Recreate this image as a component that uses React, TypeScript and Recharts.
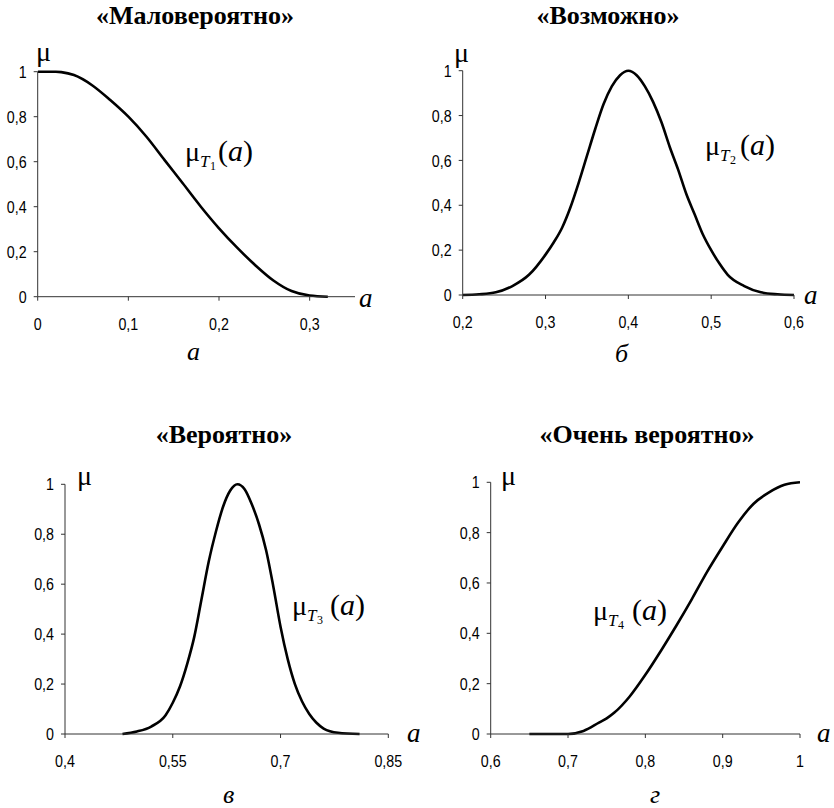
import React from 'react';
import { LineChart, Line, XAxis, YAxis } from 'recharts';

// Panel 1 «Маловероятно»
const a1 = [0, 0.02, 0.026, 0.04, 0.06, 0.08, 0.1, 0.12, 0.14, 0.16, 0.18, 0.2, 0.22, 0.24, 0.26, 0.28, 0.3, 0.32];
const mu1 = [1, 1, 0.998, 0.985, 0.94, 0.874, 0.8, 0.711, 0.607, 0.504, 0.4, 0.304, 0.218, 0.14, 0.072, 0.025, 0.005, 0];

// Panel 2 «Возможно»
const a2 = [0.2, 0.22, 0.24, 0.26, 0.28, 0.3, 0.31, 0.32, 0.33, 0.34, 0.35, 0.36, 0.37, 0.38, 0.39, 0.4, 0.41, 0.42, 0.43, 0.44, 0.45, 0.46, 0.47, 0.48, 0.49, 0.5, 0.51, 0.52, 0.54, 0.56, 0.58, 0.6];
const mu2 = [0, 0.003, 0.012, 0.04, 0.09, 0.18, 0.235, 0.3, 0.39, 0.5, 0.62, 0.74, 0.85, 0.93, 0.98, 1, 0.98, 0.93, 0.86, 0.77, 0.66, 0.56, 0.45, 0.36, 0.27, 0.2, 0.14, 0.09, 0.04, 0.012, 0.003, 0];

// Panel 3 «Вероятно»
const a3 = [0.48, 0.5, 0.52, 0.54, 0.55, 0.56, 0.57, 0.58, 0.59, 0.6, 0.61, 0.62, 0.63, 0.64, 0.65, 0.66, 0.67, 0.68, 0.69, 0.7, 0.71, 0.72, 0.73, 0.74, 0.75, 0.76, 0.78, 0.81];
const mu3 = [0, 0.01, 0.03, 0.075, 0.125, 0.19, 0.28, 0.39, 0.54, 0.69, 0.81, 0.91, 0.975, 1, 0.98, 0.92, 0.84, 0.735, 0.59, 0.43, 0.3, 0.2, 0.13, 0.08, 0.045, 0.022, 0.005, 0];

// Panel 4 «Очень вероятно»
const a4 = [0.65, 0.7, 0.72, 0.74, 0.75, 0.76, 0.78, 0.8, 0.82, 0.84, 0.86, 0.88, 0.9, 0.92, 0.94, 0.96, 0.98, 1];
const mu4 = [0, 0, 0.012, 0.045, 0.062, 0.085, 0.15, 0.235, 0.33, 0.43, 0.535, 0.645, 0.745, 0.84, 0.915, 0.96, 0.99, 1];

const yTicks = [0, 0.2, 0.4, 0.6, 0.8, 1];
const xTicks1 = [0, 0.1, 0.2, 0.3];
const xTicks2 = [0.2, 0.3, 0.4, 0.5, 0.6];
const xTicks3 = [0.4, 0.55, 0.7, 0.85];
const xTicks4 = [0.6, 0.7, 0.8, 0.9, 1];

const titles = ['«Маловероятно»', '«Возможно»', '«Вероятно»', '«Очень вероятно»'];
const subLabels = ['а', 'б', 'в', 'г'];

const fmt = (v: number) => String(v).replace('.', ',');
const TICK_FONT = "'Liberation Sans', Arial, sans-serif";
const SERIF = "'Liberation Serif', 'Times New Roman', serif";
const AXIS = '#333';
const Y_W = 40;
const X_H = 40;
const TICK_SIZE = 17;
const NARROW = 0.84;

function YTick(props: any) {
  const { x, y, payload } = props;
  return (
    <text transform={`translate(${x},${y}) scale(${NARROW},1)`} x={0} y={0} dy="0.36em" textAnchor="end" fontSize={TICK_SIZE} fontFamily={TICK_FONT} fill="#000">
      {fmt(payload.value)}
    </text>
  );
}

function XTick(props: any) {
  const { x, y, payload } = props;
  return (
    <text transform={`translate(${x},${y}) scale(${NARROW},1)`} x={0} y={0} dy="0.71em" textAnchor="middle" fontSize={TICK_SIZE} fontFamily={TICK_FONT} fill="#000">
      {fmt(payload.value)}
    </text>
  );
}

type Box = { left: number; top: number; width: number; height: number };
type Plot = { x0: number; x1: number; y0: number; y1: number };

function Panel({ a, mu, box, plot, domain, ticks }: { a: number[]; mu: number[]; box: Box; plot: Plot; domain: [number, number]; ticks: number[] }) {
  const data = a.map((v, i) => ({ a: v, mu: mu[i] }));
  const margin = {
    left: plot.x0 - box.left - Y_W,
    right: box.left + box.width - plot.x1,
    top: plot.y0 - box.top,
    bottom: box.top + box.height - plot.y1 - X_H,
  };
  return (
    <div style={{ position: 'absolute', left: box.left, top: box.top }}>
      <LineChart width={box.width} height={box.height} data={data} margin={margin}>
        <XAxis
          type="number"
          dataKey="a"
          domain={domain}
          ticks={ticks}
          interval={0}
          allowDataOverflow
          height={X_H}
          tickSize={4}
          tickMargin={17}
          axisLine={{ stroke: AXIS }}
          tickLine={{ stroke: AXIS }}
          tick={<XTick />}
        />
        <YAxis
          type="number"
          domain={[0, 1]}
          ticks={yTicks}
          interval={0}
          width={Y_W}
          tickSize={4}
          tickMargin={7}
          axisLine={{ stroke: AXIS }}
          tickLine={{ stroke: AXIS }}
          tick={<YTick />}
        />
        <Line type="monotone" dataKey="mu" stroke="#000" strokeWidth={2.6} dot={false} isAnimationActive={false} />
      </LineChart>
    </div>
  );
}

function CurveLabel({ x, y, parenX, idx }: { x: number; y: number; parenX: number; idx: number }) {
  return (
    <g fontFamily={SERIF} fill="#000">
      <text x={x} y={y} fontSize={28}>μ</text>
      <text x={x + 15} y={y + 6} fontSize={17} fontStyle="italic">T</text>
      <text x={x + 25} y={y + 9} fontSize={12}>{idx}</text>
      <text x={parenX} y={y} fontSize={30}>(<tspan fontStyle="italic">a</tspan>)</text>
    </g>
  );
}

export default function App() {
  return (
    <div style={{ position: 'absolute', left: 0, top: 0, width: 834, height: 808, background: '#fff' }}>
      <Panel a={a1} mu={mu1} box={{ left: 0, top: 0, width: 415, height: 400 }} plot={{ x0: 37.7, x1: 355, y0: 71.7, y1: 296.7 }} domain={[0, 0.35]} ticks={xTicks1} />
      <Panel a={a2} mu={mu2} box={{ left: 415, top: 0, width: 419, height: 400 }} plot={{ x0: 462.7, x1: 794, y0: 70.7, y1: 295 }} domain={[0.2, 0.6]} ticks={xTicks2} />
      <Panel a={a3} mu={mu3} box={{ left: 0, top: 420, width: 415, height: 388 }} plot={{ x0: 65, x1: 388.3, y0: 484.3, y1: 734 }} domain={[0.4, 0.85]} ticks={xTicks3} />
      <Panel a={a4} mu={mu4} box={{ left: 415, top: 420, width: 419, height: 388 }} plot={{ x0: 490.7, x1: 800, y0: 482.3, y1: 734 }} domain={[0.6, 1]} ticks={xTicks4} />
      <svg width={834} height={808} style={{ position: 'absolute', left: 0, top: 0, pointerEvents: 'none' }}>
        <g fontFamily={SERIF} fontWeight="bold" fontSize={26} textAnchor="middle" fill="#000">
          <text x={195} y={24}>{titles[0]}</text>
          <text x={608} y={24}>{titles[1]}</text>
          <text x={224} y={443}>{titles[2]}</text>
          <text x={647} y={443}>{titles[3]}</text>
        </g>
        <g fontFamily={SERIF} fontSize={28} fill="#000">
          <text x={36} y={61}>μ</text>
          <text x={454} y={62}>μ</text>
          <text x={77} y={485}>μ</text>
          <text x={501} y={485}>μ</text>
        </g>
        <g fontFamily={SERIF} fontSize={27} fontStyle="italic" fill="#000">
          <text x={359} y={307}>a</text>
          <text x={804} y={304}>a</text>
          <text x={407} y={742}>a</text>
          <text x={817} y={742}>a</text>
        </g>
        <g fontFamily={SERIF} fontSize={26} fontStyle="italic" fill="#000">
          <text x={187} y={360}>{subLabels[0]}</text>
          <text x={615} y={362}>{subLabels[1]}</text>
          <text x={223} y={803}>{subLabels[2]}</text>
          <text x={650} y={803}>{subLabels[3]}</text>
        </g>
        <CurveLabel x={185} y={161} parenX={218} idx={1} />
        <CurveLabel x={705} y={155} parenX={740} idx={2} />
        <CurveLabel x={292} y={615} parenX={330} idx={3} />
        <CurveLabel x={593} y={620} parenX={632} idx={4} />
      </svg>
    </div>
  );
}
